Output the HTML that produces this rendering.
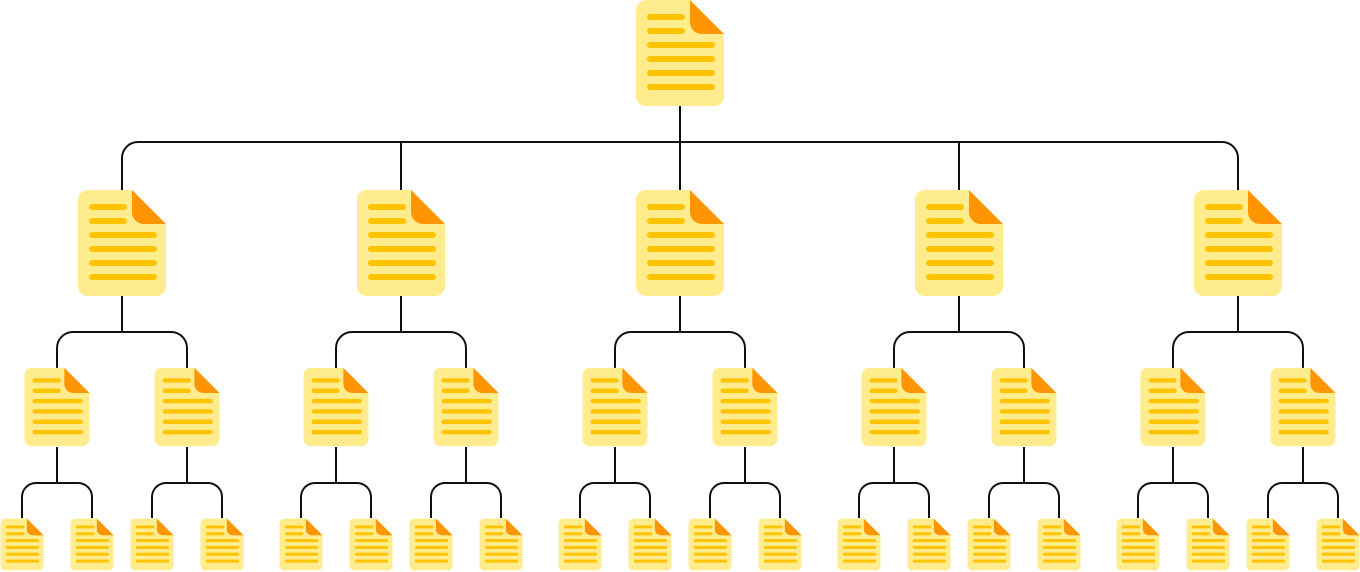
<!DOCTYPE html>
<html><head><meta charset="utf-8"><style>html,body{margin:0;padding:0;background:#fff}svg{display:block}</style></head>
<body>
<svg width="1360" height="572" viewBox="0 0 1360 572" xmlns="http://www.w3.org/2000/svg">
<defs>
<symbol id="doc" viewBox="0 0 88 106">
<path d="M10 0 H54 L88 34 V96 A10 10 0 0 1 78 106 H10 A10 10 0 0 1 0 96 V10 A10 10 0 0 1 10 0Z" fill="#FFEC8F"/>
<path d="M54 0 L88 34 H66 A12 12 0 0 1 54 22 Z" fill="#FF9500"/>
<g stroke="#FFC300" stroke-width="6" stroke-linecap="round">
<line x1="14" y1="17" x2="46" y2="17"/><line x1="14" y1="31" x2="46" y2="31"/>
<line x1="14" y1="45" x2="76" y2="45"/><line x1="14" y1="59" x2="76" y2="59"/>
<line x1="14" y1="73" x2="76" y2="73"/><line x1="14" y1="87" x2="76" y2="87"/>
</g>
</symbol>
</defs>
<g fill="none" stroke="#111" stroke-width="2" id="lines"></g>
<g id="icons"></g>
<script>
var L=document.getElementById('lines'),I=document.getElementById('icons'),ns='http://www.w3.org/2000/svg';
function p(d){var e=document.createElementNS(ns,'path');e.setAttribute('d',d);L.appendChild(e);}
function ic(cx,y,w,h){var u=document.createElementNS(ns,'use');u.setAttribute('href','#doc');u.setAttribute('x',cx-w/2);u.setAttribute('y',y);u.setAttribute('width',w);u.setAttribute('height',h);I.appendChild(u);}
function fork(cx,y0,yb,y1,l,r,rad){p('M'+cx+' '+y0+'V'+yb);p('M'+l+' '+y1+'V'+(yb+rad)+'A'+rad+' '+rad+' 0 0 1 '+(l+rad)+' '+yb+'H'+(r-rad)+'A'+rad+' '+rad+' 0 0 1 '+r+' '+(yb+rad)+'V'+y1);}
fork(680,106,142,190,122,1238,16);
ic(680,0,88,106);
var c1=[122,401,680,959,1238];
c1.forEach(function(c,i){
 if(i>0&&i<4) p('M'+c+' 142V190');
 ic(c,190,88,106);
 fork(c,296,332,368,c-65,c+65,16);
 [c-65,c+65].forEach(function(d){
  ic(d,367,65,80);
  fork(d,447,483,518,d-35,d+35,14);
  ic(d-35,518,43,53);ic(d+35,518,43,53);
 });
});
</script>
</svg>
</body></html>
